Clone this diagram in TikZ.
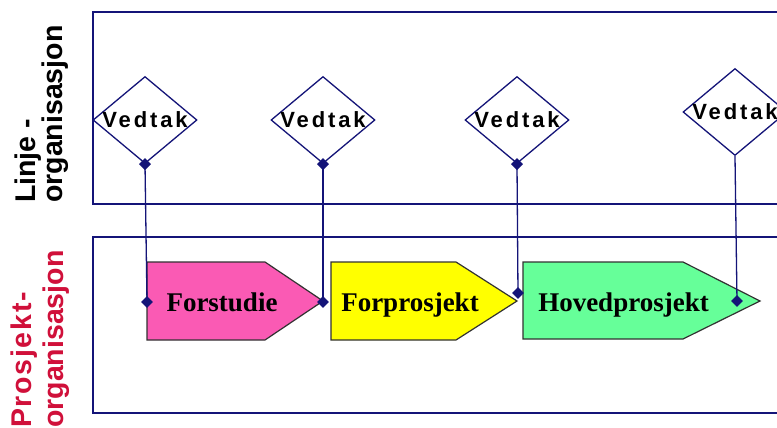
\documentclass[tikz,border=0pt]{standalone}
\usepackage{fontspec}
\setmainfont{Liberation Serif}
\newfontfamily\labfont{Liberation Sans}
\newfontfamily\labspfont{Liberation Sans}[LetterSpace=6]
\newfontfamily\vedfont{Liberation Sans}[LetterSpace=13]
\usetikzlibrary{shapes.geometric}
\definecolor{navy}{RGB}{20,20,120}
\definecolor{pinkf}{RGB}{250,90,180}
\definecolor{yellowf}{RGB}{255,255,0}
\definecolor{greenf}{RGB}{102,255,153}
\definecolor{redlab}{RGB}{208,16,58}
\definecolor{edgegray}{RGB}{50,50,50}
\begin{document}
\begin{tikzpicture}[x=1pt,y=-1pt,
  frame/.style={draw=navy, line width=1.3pt},
  dia/.style={diamond, draw=navy, line width=1.3pt, minimum width=104pt, minimum height=87pt, inner sep=0pt},
  vtext/.style={font=\vedfont\bfseries\fontsize{22}{26}\selectfont, inner sep=0pt, text=black},
  phase/.style={draw=edgegray, line width=1.2pt},
  ptext/.style={font=\bfseries\fontsize{27}{30}\selectfont, inner sep=0pt, anchor=base},
  conn/.style={draw=navy, line width=1.3pt},
  dot/.style={diamond, fill=navy, inner sep=0pt, minimum size=12pt},
  sidelab/.style={font=\labfont\bfseries\fontsize{28.5}{30}\selectfont, inner sep=0pt, rotate=90, anchor=base west}
]
\useasboundingbox (0,0) rectangle (777,428);
\clip (0,0) rectangle (777,428);
\fill[white] (0,0) rectangle (777,428);

% frames
\draw[frame] (93,12) rectangle (800,204);
\draw[frame] (93,237) rectangle (800,413);

% side labels
\node[sidelab] (la1) at (35,203) {Linje -};
\node[sidelab] (la2) at (62,203) {organisasjon};
\node[sidelab, text=redlab, font=\labspfont\bfseries\fontsize{28.5}{30}\selectfont] (lb1) at (31,428) {Prosjekt-};
\node[sidelab, text=redlab] (lb2) at (63,428) {organisasjon};

% decision diamonds
\node[dia] (d1) at (145,120) {};
\node[dia] (d2) at (323,120) {};
\node[dia] (d3) at (517,120) {};
\node[dia] (d4) at (735,112) {};
\node[vtext] (v1) at (d1) {Vedtak};
\node[vtext] (v2) at (d2) {Vedtak};
\node[vtext] (v3) at (d3) {Vedtak};
\node[vtext] (v4) at (d4) {Vedtak};

% phases
\draw[phase, fill=pinkf] (147,262) -- (265,262) -- (323,301) -- (265,340) -- (147,340) -- cycle;
\draw[phase, fill=yellowf] (331,262) -- (456,262) -- (517,301) -- (456,340) -- (331,340) -- cycle;
\draw[phase, fill=greenf] (523,262) -- (683,262) -- (760,301) -- (683,339) -- (523,339) -- cycle;
\node[ptext] (t1) at (222,311) {Forstudie};
\node[ptext] (t2) at (410,311) {Forprosjekt};
\node[ptext] (t3) at (623.5,311) {Hovedprosjekt};

% connector end points
\coordinate (e1) at (147,302);
\coordinate (e2) at (323,302);
\coordinate (e3) at (518,293);
\coordinate (e4) at (737,301);

\draw[conn] (d1.south) -- (e1);
\draw[conn] (d2.south) -- (e2);
\draw[conn] (d3.south) -- (e3);
\draw[conn] (d4.south) -- (e4);

\node[dot] (m1) at (d1.south) {};
\node[dot] (m2) at (d2.south) {};
\node[dot] (m3) at (d3.south) {};
\node[dot] (n1) at (e1) {};
\node[dot] (n2) at (e2) {};
\node[dot] (n3) at (e3) {};
\node[dot] (n4) at (e4) {};
\end{tikzpicture}
\end{document}
